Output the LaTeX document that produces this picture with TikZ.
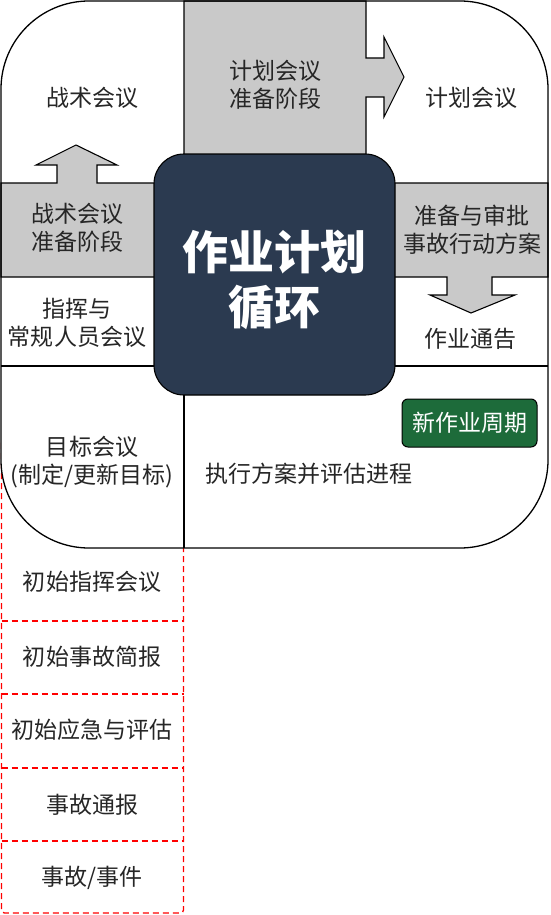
\documentclass[tikz,border=0pt]{standalone}
\usepackage{fontspec}
\newfontfamily\cjk{Noto Sans CJK SC}
\definecolor{panelgray}{HTML}{C9C9C9}
\definecolor{navy}{HTML}{2B3A50}
\definecolor{cyclegreen}{HTML}{1D6B3A}
\tikzset{
  lbl/.style={font=\cjk\fontsize{23}{28}\selectfont, text=black!85, align=center, inner sep=0pt},
  ttl/.style={font=\cjk\bfseries\fontsize{46}{55}\selectfont, text=white, align=center, inner sep=0pt},
  panel/.style={fill=panelgray, draw=black, line width=1.1pt, line join=miter},
  divider/.style={draw=black, line width=1.1pt},
  reddash/.style={draw=red, line width=1.3pt, dash pattern=on 6pt off 4pt},
}
\begin{document}
\begin{tikzpicture}[x=1pt, y=-1pt]
\useasboundingbox (0,0) rectangle (550,915);
% red dashed list
\draw[reddash, rounded corners=3pt] (1.5,440) rectangle (183.5,913);
\foreach \yy in {621,694,768,841} \draw[reddash] (1.5,\yy) -- (183.5,\yy);
% outer white box fill
\fill[white, rounded corners=88pt] (1,1) rectangle (548,548);
% gray panels with arrows
\path[panel] (184,1) -- (366,1) -- (366,58) -- (384,58) -- (384,37) -- (404,77) -- (384,117) -- (384,97) -- (366,97) -- (366,170) -- (184,170) -- cycle;
\path[panel] (1,183) -- (57,183) -- (57,165) -- (36,165) -- (76,145) -- (117,165) -- (97,165) -- (97,183) -- (170,183) -- (170,277) -- (1,277) -- cycle;
\path[panel] (380,183) -- (548,183) -- (548,277) -- (492,277) -- (492,295) -- (515,295) -- (471,313) -- (430,295) -- (447,295) -- (447,277) -- (380,277) -- cycle;
% white region dividers
\draw[divider] (1,366) -- (170,366);
\draw[divider] (380,366) -- (548,366);
\draw[divider] (184,380) -- (184,548);
% central box
\node[draw=black, line width=1.1pt, fill=navy, rounded corners=30pt, minimum width=241pt, minimum height=241pt, inner sep=0pt] (core) at (274.5,274.5) {};
\node[ttl] (title) at (274.5,280) {作业计划\\循环};
% outer outline
\draw[line width=1.3pt, rounded corners=88pt] (1,1) rectangle (548,548);
% green box
\node[draw=black, line width=1pt, fill=cyclegreen, rounded corners=6pt, minimum width=135pt, minimum height=48pt, inner sep=0pt, font=\cjk\fontsize{23}{28}\selectfont, text=white] (newcycle) at (469.5,423) {新作业周期};
% labels
\node[lbl] (tactical) at (92,98) {战术会议};
\node[lbl] (planprep) at (275,85) {计划会议\\准备阶段};
\node[lbl] (planning) at (471,98) {计划会议};
\node[lbl] (tacprep) at (77,228) {战术会议\\准备阶段};
\node[lbl] (approve) at (472,230) {准备与审批\\事故行动方案};
\node[lbl] (cmd) at (77,323) {指挥与\\常规人员会议};
\node[lbl] (notice) at (470,339) {作业通告};
\node[lbl] (objective) at (92,462) {目标会议\\(制定/更新目标)};
\node[lbl] (execute) at (309,474) {执行方案并评估进程};
\node[lbl] (l1) at (92,582) {初始指挥会议};
\node[lbl] (l2) at (92,657) {初始事故简报};
\node[lbl] (l3) at (92,730) {初始应急与评估};
\node[lbl] (l4) at (92,805) {事故通报};
\node[lbl] (l5) at (92,878) {事故/事件};
\end{tikzpicture}
\end{document}
